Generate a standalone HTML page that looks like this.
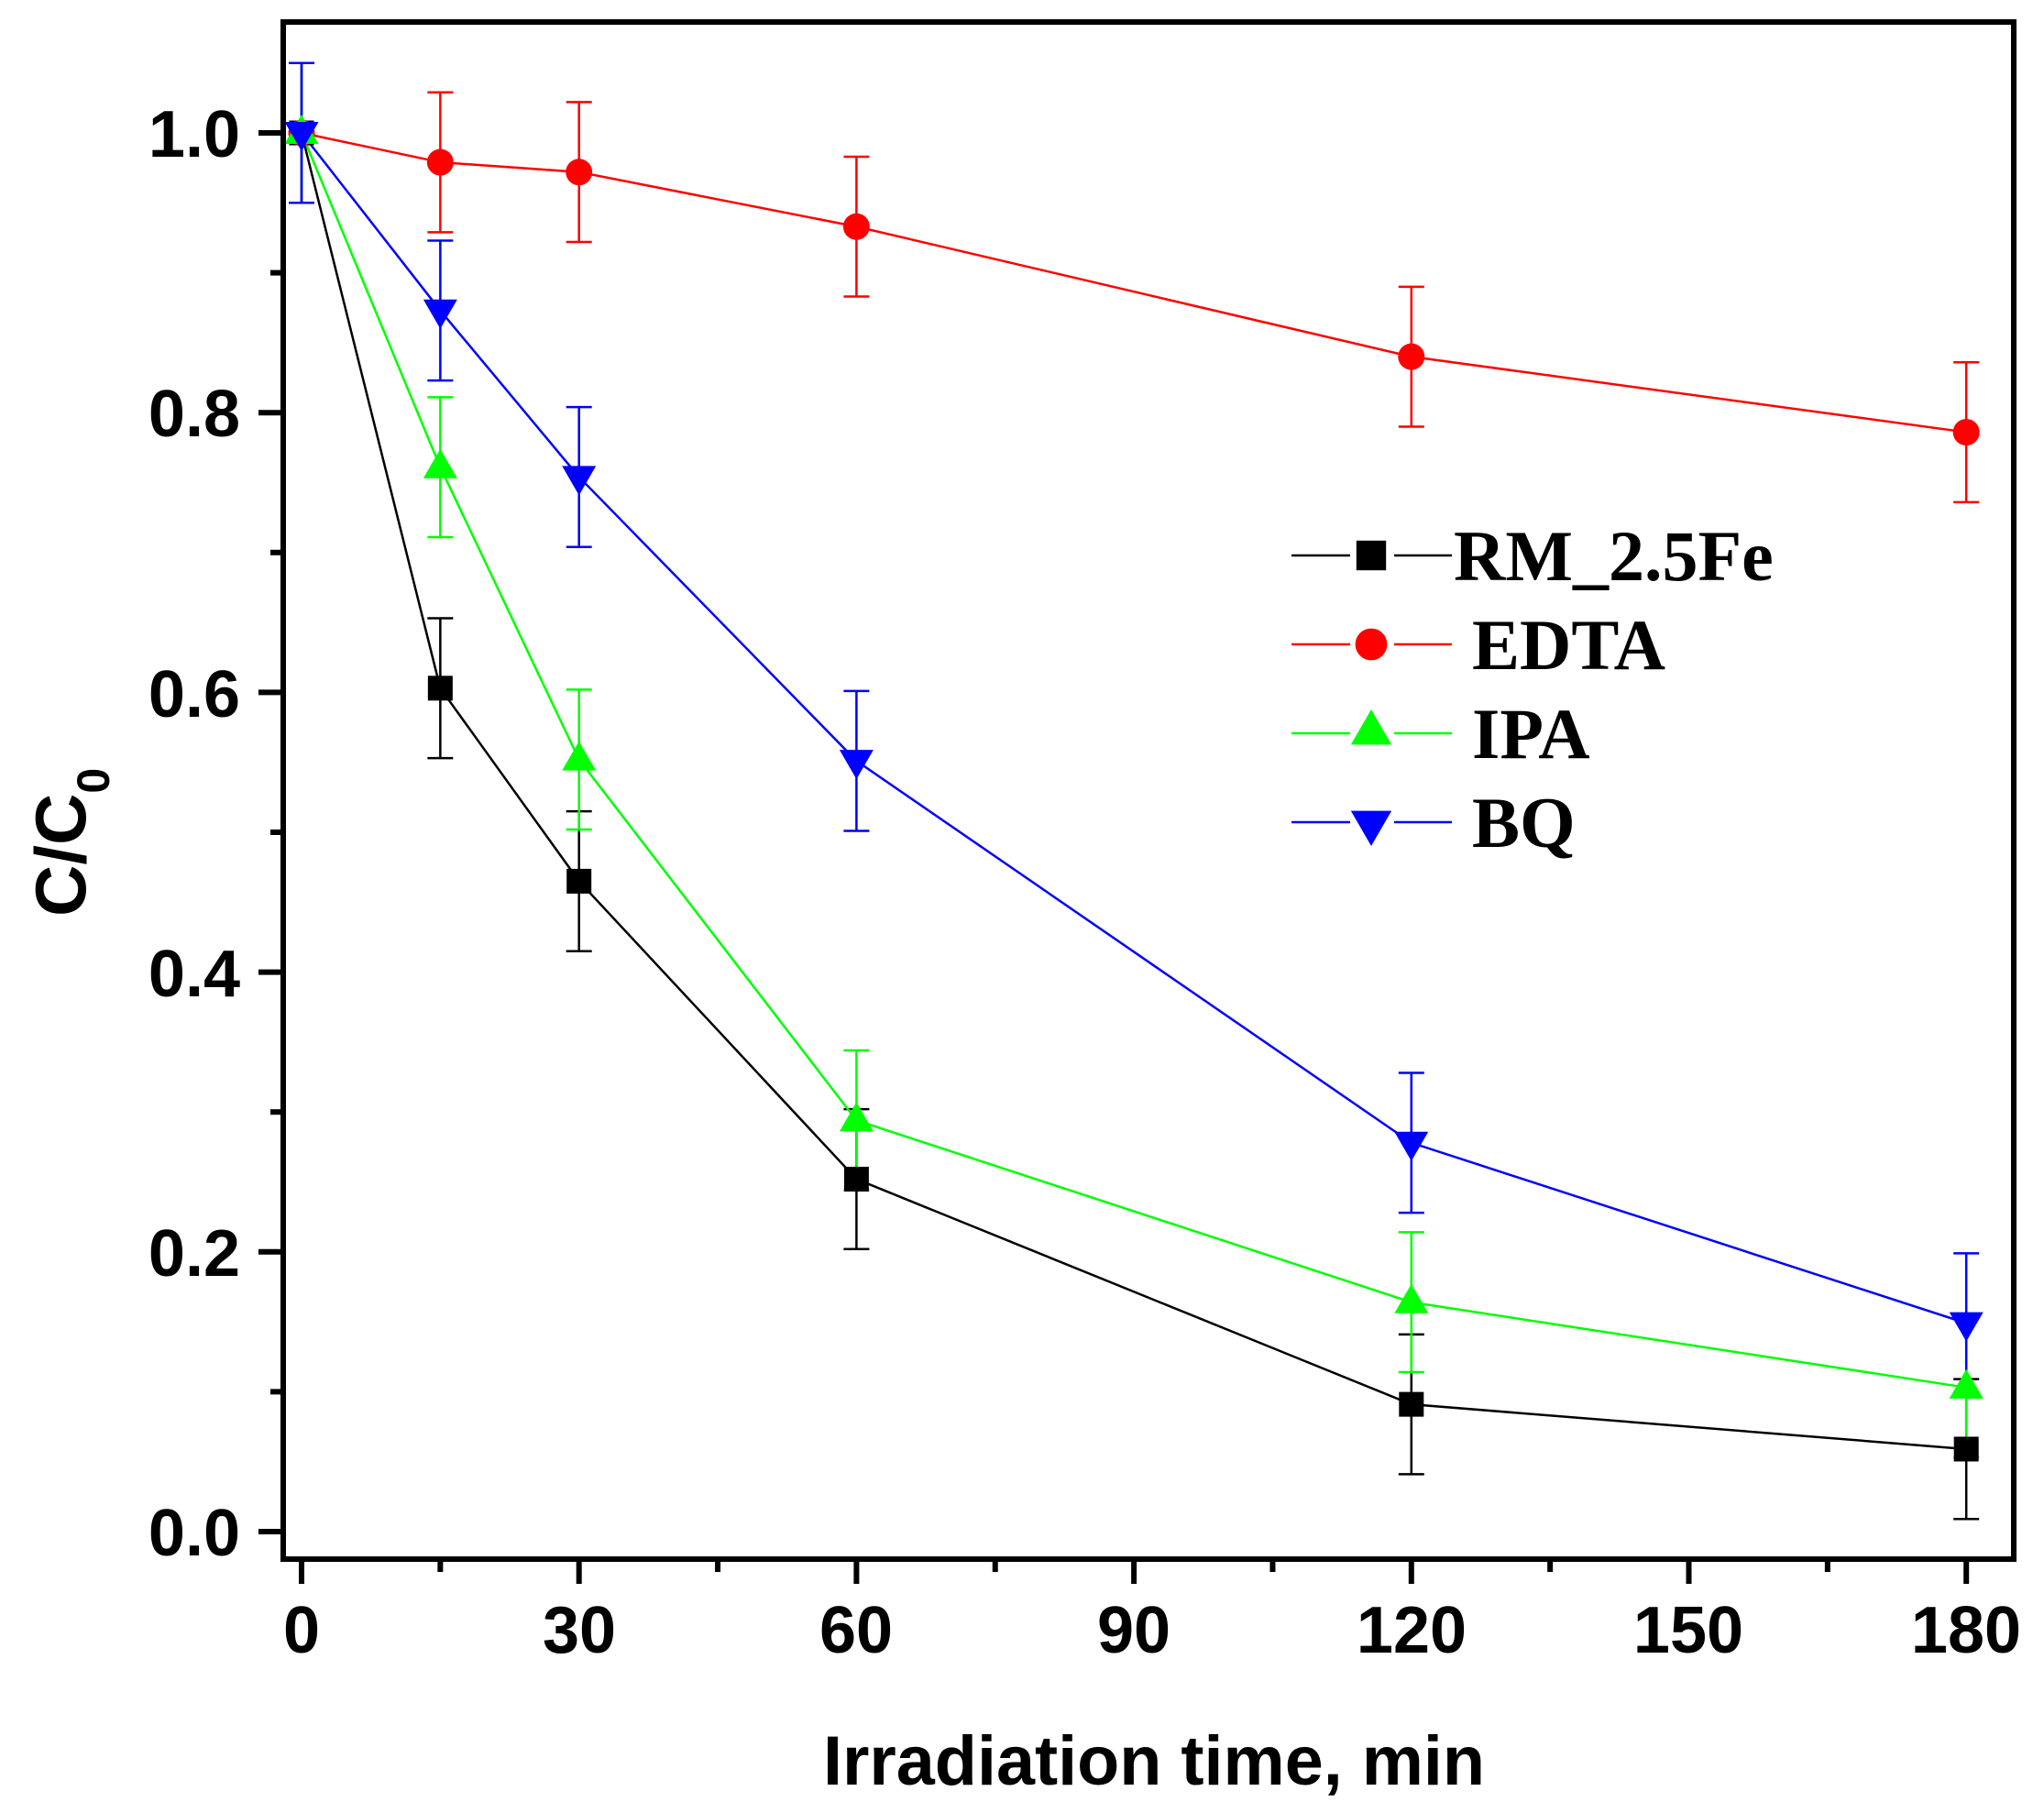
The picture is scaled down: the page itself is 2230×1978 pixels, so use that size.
<!DOCTYPE html>
<html><head><meta charset="utf-8"><style>
html,body{margin:0;padding:0;background:#fff;}
svg{display:block;}
</style></head><body>
<svg id="s" xmlns="http://www.w3.org/2000/svg" width="2230" height="1978" viewBox="0 0 2230 1978">
<rect width="2230" height="1978" fill="#fff"/>
<g id="g"></g>
<rect x="309" y="24" width="1888" height="1677" fill="none" stroke="#000" stroke-width="6"/>
<g font-family="Liberation Sans, Arial, sans-serif" font-weight="bold" font-size="72" fill="#000">
<text x="262" y="171" text-anchor="end">1.0</text>
<text x="262" y="476" text-anchor="end">0.8</text>
<text x="262" y="782" text-anchor="end">0.6</text>
<text x="262" y="1087" text-anchor="end">0.4</text>
<text x="262" y="1392" text-anchor="end">0.2</text>
<text x="262" y="1697" text-anchor="end">0.0</text>
<text x="329" y="1803" text-anchor="middle">0</text>
<text x="632" y="1803" text-anchor="middle">30</text>
<text x="934" y="1803" text-anchor="middle">60</text>
<text x="1237" y="1803" text-anchor="middle">90</text>
<text x="1540" y="1803" text-anchor="middle">120</text>
<text x="1842" y="1803" text-anchor="middle">150</text>
<text x="2145" y="1803" text-anchor="middle">180</text>
<text x="1259" y="1947" text-anchor="middle" font-size="76" textLength="722" lengthAdjust="spacingAndGlyphs">Irradiation time, min</text>
<text transform="translate(93,1000) rotate(-90)" font-size="78">C/C<tspan font-size="50" dy="26">0</tspan></text>
</g>
<g font-family="Liberation Serif, Times New Roman, serif" font-weight="bold" font-size="78" fill="#000">
<text x="1586" y="633">RM_2.5Fe</text>
<text x="1606" y="730">EDTA</text>
<text x="1606" y="827">IPA</text>
<text x="1606" y="924">BQ</text>
</g>
</svg>
<script>
var g=document.getElementById('g');var h='';
function X(t){return 329+t*10.09;}function Y(v){return 1671-v*1526;}
for(var i=0;i<=10;i++){var y=Y(i*0.1);var L=(i%2==0)?27:14;h+='<line x1="'+(309-L)+'" y1="'+y+'" x2="309" y2="'+y+'" stroke="#000" stroke-width="6"/>';}
for(var t=0;t<=180;t+=15){var x=X(t);var L=(t%30==0)?27:14;h+='<line x1="'+x+'" y1="1701" x2="'+x+'" y2="'+(1701+L)+'" stroke="#000" stroke-width="6"/>';}
var T=[0,15,30,60,120,180];
var S=[
{c:'#000',m:'sq',v:[1.0,0.603,0.465,0.252,0.091,0.059]},
{c:'#f00',m:'ci',v:[1.0,0.979,0.972,0.933,0.84,0.786]},
{c:'#0f0',m:'up',v:[1.0,0.761,0.552,0.294,0.164,0.103]},
{c:'#00f',m:'dn',v:[1.0,0.873,0.754,0.551,0.278,0.149]}];
function mk(m,x,y,c,k){k=k||1;
 if(m=='sq')return '<rect x="'+(x-13.5*k)+'" y="'+(y-13.5*k)+'" width="'+27*k+'" height="'+27*k+'" fill="'+c+'"/>';
 if(m=='ci')return '<circle cx="'+x+'" cy="'+y+'" r="'+14.5*k+'" fill="'+c+'"/>';
 if(m=='up')return '<polygon points="'+(x-18.5*k)+','+(y+12*k)+' '+(x+18.5*k)+','+(y+12*k)+' '+x+','+(y-20*k)+'" fill="'+c+'"/>';
 return '<polygon points="'+(x-18.5*k)+','+(y-12*k)+' '+(x+18.5*k)+','+(y-12*k)+' '+x+','+(y+20*k)+'" fill="'+c+'"/>';
}
S.forEach(function(s){
 var p=s.v.map(function(v,i){return X(T[i])+','+Y(v);}).join(' ');
 h+='<polyline points="'+p+'" fill="none" stroke="'+s.c+'" stroke-width="2.5"/>';
 s.v.forEach(function(v,i){var x=X(T[i]),y1=Y(v+0.05),y2=Y(v-0.05);
  h+='<line x1="'+x+'" y1="'+y1+'" x2="'+x+'" y2="'+y2+'" stroke="'+s.c+'" stroke-width="2.5"/>';
  h+='<line x1="'+(x-14)+'" y1="'+y1+'" x2="'+(x+14)+'" y2="'+y1+'" stroke="'+s.c+'" stroke-width="2.5"/>';
  h+='<line x1="'+(x-14)+'" y1="'+y2+'" x2="'+(x+14)+'" y2="'+y2+'" stroke="'+s.c+'" stroke-width="2.5"/>';});
});
S.forEach(function(s){s.v.forEach(function(v,i){h+=mk(s.m,X(T[i]),Y(v),s.c);});});
var LY=[606,703,800,897];
S.forEach(function(s,i){var y=LY[i];
 h+='<line x1="1409" y1="'+y+'" x2="1473" y2="'+y+'" stroke="'+s.c+'" stroke-width="2.5"/>';
 h+='<line x1="1521" y1="'+y+'" x2="1584" y2="'+y+'" stroke="'+s.c+'" stroke-width="2.5"/>';
 var yy=y; if(s.m=='up')yy=y-2; if(s.m=='dn')yy=y+2;
 h+=mk(s.m,1496,yy,s.c,1.2);});
g.innerHTML=h;
</script>
</body></html>
